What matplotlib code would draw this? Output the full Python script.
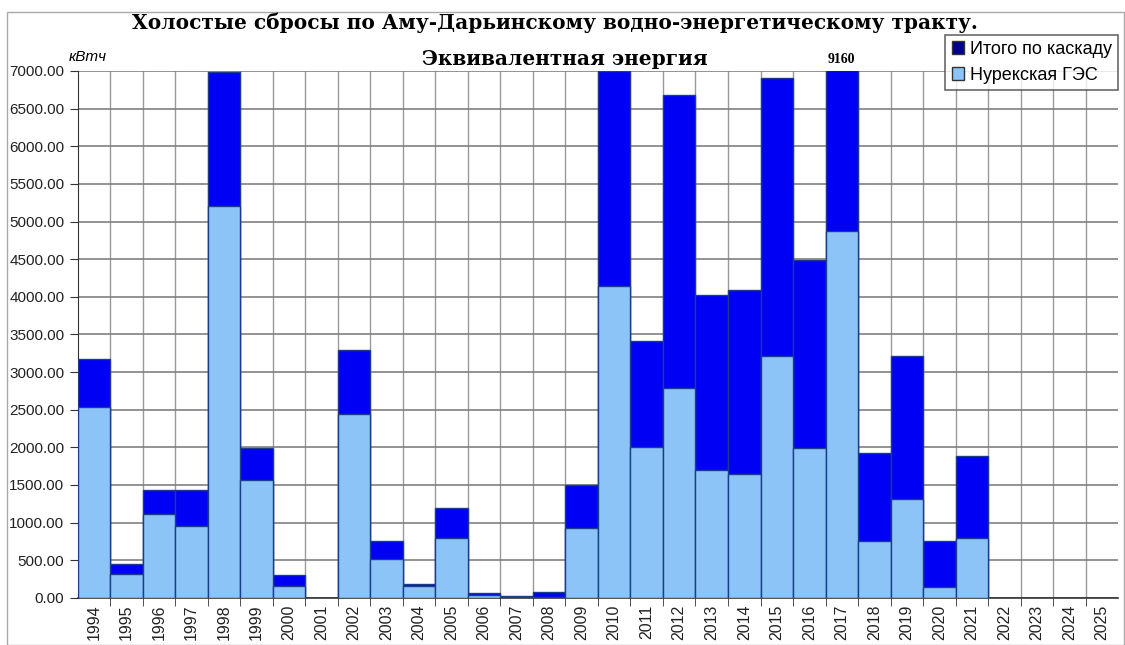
import numpy as np
import matplotlib.pyplot as plt
from matplotlib.patches import Rectangle, Patch

years = [str(y) for y in range(1994, 2026)]
# Итого по каскаду (2010 and 2017 go above the axis limit; 2017 is labelled 9160)
total = [3180, 450, 1440, 1430, 6990, 1990, 300, 0, 3290, 760, 190, 1200,
         60, 30, 80, 1500, 7000, 3410, 6680, 4030, 4090, 6910, 4490, 9160,
         1920, 3220, 760, 1890, 0, 0, 0, 0]
# Нурекская ГЭС
nurek = [2530, 320, 1120, 960, 5210, 1570, 160, 0, 2440, 520, 160, 800,
         40, 10, 15, 930, 4150, 2000, 2790, 1700, 1640, 3210, 1990, 4880,
         750, 1310, 150, 790, 0, 0, 0, 0]

dark = '#0000F5'
light = '#8CC4F8'
edge = '#1C3D8C'

fig = plt.figure(figsize=(11.25, 6.45), dpi=100)
ax = fig.add_axes([0.069, 0.073, 0.925, 0.817])

x = np.arange(len(years))
total = np.array(total)
nurek = np.array(nurek)
has = total > 0
ax.bar(x[has], total[has], width=1.0, color=dark, edgecolor=edge, linewidth=1.0, zorder=3)
ax.bar(x[has], nurek[has], width=1.0, color=light, edgecolor=edge, linewidth=1.0, zorder=4)

ax.set_xlim(-0.5, len(years) - 0.5)
ax.set_ylim(0, 7000)
ax.set_yticks(np.arange(0, 7001, 500))
ax.set_yticklabels([f'{v:.2f}' for v in np.arange(0, 7001, 500)],
                   fontfamily='Liberation Sans', fontsize=11, color='#222222')
ax.set_xticks(x)
ax.set_xticklabels(years, rotation=90, fontfamily='Liberation Sans',
                   fontsize=11.5, color='#222222')
ax.set_xticks(x[:-1] + 0.5, minor=True)
ax.tick_params(axis='x', which='major', length=0, pad=5)
ax.tick_params(axis='x', which='minor', length=6, direction='out', color='#333333')
ax.tick_params(axis='y', length=6, direction='out', color='#333333')
ax.grid(axis='y', which='major', color='#808080', linewidth=1.2, zorder=1)
ax.grid(axis='x', which='minor', color='#999999', linewidth=1.0, zorder=1)
for s in ['top', 'right']:
    ax.spines[s].set_visible(False)
ax.spines['left'].set_color('#333333')
ax.spines['bottom'].set_color('#333333')
ax.spines['bottom'].set_linewidth(1.2)

fig.text(0.493, 0.965, 'Холостые сбросы по Аму-Дарьинскому водно-энергетическому тракту.',
         ha='center', va='center', fontfamily='DejaVu Serif', fontweight='bold',
         fontsize=14.5)
fig.text(0.502, 0.909, 'Эквивалентная энергия', ha='center', va='center',
         fontfamily='DejaVu Serif', fontweight='bold', fontsize=14.5)
fig.text(0.078, 0.912, 'кВтч', ha='center', va='center', style='italic',
         fontfamily='Liberation Sans', fontsize=11)
ax.text(x[years.index('2017')], 7070, '9160', ha='center', va='bottom',
        fontfamily='Liberation Serif', fontweight='bold', fontsize=10)

handles = [Patch(facecolor='#000090', edgecolor='#333333'),
           Patch(facecolor=light, edgecolor='#333333')]
leg = fig.legend(handles, ['Итого по каскаду', 'Нурекская ГЭС'],
                 loc='upper right', bbox_to_anchor=(0.997, 0.952),
                 prop={'family': 'Liberation Sans', 'size': 13},
                 frameon=True, fancybox=False, handlelength=0.7, handleheight=0.7,
                 handletextpad=0.3, borderpad=0.35, labelspacing=0.5,
                 borderaxespad=0.2)
leg.get_frame().set_edgecolor('#444444')
leg.get_frame().set_linewidth(1.2)

fig.patches.append(Rectangle((0.006, 0.0), 0.993, 0.981, transform=fig.transFigure,
                             fill=False, edgecolor='#aaaaaa', linewidth=1.0))

fig.savefig('out.png', dpi=100)
